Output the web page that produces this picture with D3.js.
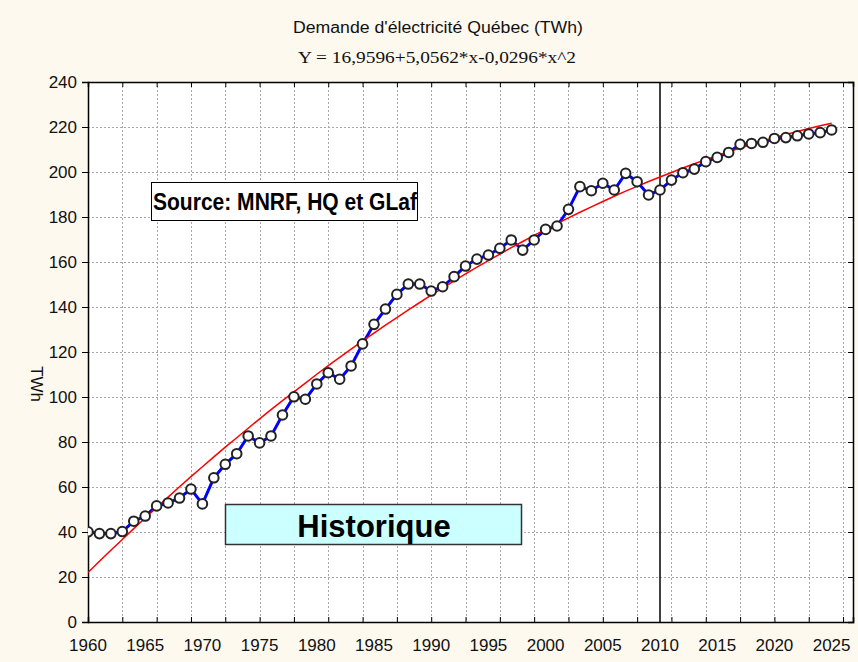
<!DOCTYPE html>
<html>
<head>
<meta charset="utf-8">
<script src="https://cdn.jsdelivr.net/npm/d3@7"></script>
<style>
  html, body { margin: 0; padding: 0; background: #fdf9ef; }
  svg { display: block; font-family: Arial, "Liberation Sans", sans-serif; }
</style>
</head>
<body>
<svg width="858" height="662"></svg>
<script>
// demande historique + prévision (TWh)
const years = d3.range(1960, 2026)
const demand = [
  40.1, 39.3, 39.3, 40.2, 44.8, 47.1, 51.6, 52.9, 55.1, 59.1,
  52.5, 64.1, 70.1, 74.8, 82.7, 79.6, 82.7, 92.0, 100.1, 99.0,
  105.8, 110.8, 107.9, 113.8, 123.6, 132.3, 139.1, 145.6, 150.2, 150.2,
  147.1, 149.0, 153.5, 158.2, 161.3, 163.1, 166.1, 169.8, 165.3, 169.8,
  174.5, 176.0, 183.4, 193.5, 191.7, 195.0, 192.0, 199.4, 195.7, 189.8,
  192.0, 196.4, 199.7, 201.3, 204.6, 206.5, 208.7, 212.3, 212.7, 213.2,
  214.9, 215.3, 216.1, 216.9, 217.5, 218.7
]
// courbe ajustée (une valeur par année)
const fitted = [
  22.0, 27.0, 31.9, 36.7, 41.5, 46.2, 50.9, 55.5, 60.1, 64.6,
  69.0, 73.4, 77.7, 81.9, 86.1, 90.3, 94.4, 98.4, 102.3, 106.2,
  110.1, 113.9, 117.6, 121.3, 124.9, 128.4, 131.9, 135.3, 138.7, 142.0,
  145.3, 148.4, 151.6, 154.7, 157.7, 160.6, 163.5, 166.4, 169.1, 171.8,
  174.5, 177.1, 179.6, 182.1, 184.5, 186.9, 189.2, 191.5, 193.6, 195.8,
  197.8, 199.8, 201.8, 203.7, 205.5, 207.3, 209.0, 210.6, 212.2, 213.8,
  215.2, 216.7, 218.0, 219.3, 220.6, 221.7
]
const xTickLabels = d3.range(1960, 2026, 5)
const xGridYears = d3.range(1963, 2027, 3)
const yTicks = d3.range(0, 241, 20)
const splitYear = 2010

const svg = d3.select('svg')
const pLeft = 88, pRight = 853, pTop = 82, pBottom = 622

const x = d3.scaleLinear().domain([1960, 2026.87]).range([pLeft, pRight])
const y = d3.scaleLinear().domain([0, 240]).range([pBottom, pTop])

svg.append('rect').attr('width', 858).attr('height', 662).attr('fill', '#fdf9ef')
svg.append('rect')
  .attr('x', pLeft).attr('y', pTop)
  .attr('width', pRight - pLeft).attr('height', pBottom - pTop)
  .attr('fill', '#fff')

svg.append('defs').append('clipPath').attr('id', 'plot')
  .append('rect')
  .attr('x', pLeft).attr('y', pTop)
  .attr('width', pRight - pLeft).attr('height', pBottom - pTop)

// grille
const grid = svg.append('g')
  .attr('stroke', '#a8a8a8').attr('stroke-width', 1).attr('stroke-dasharray', '2,2')
grid.selectAll('.gx').data(xGridYears).enter().append('line')
  .attr('x1', d => Math.round(x(d)) + 0.5).attr('x2', d => Math.round(x(d)) + 0.5)
  .attr('y1', pTop).attr('y2', pBottom)
grid.selectAll('.gy').data(yTicks.filter(d => d > 0 && d < 240)).enter().append('line')
  .attr('y1', d => Math.round(y(d)) + 0.5).attr('y2', d => Math.round(y(d)) + 0.5)
  .attr('x1', pLeft).attr('x2', pRight)

// axes
const xAxisBottom = d3.axisBottom(x).tickValues(xGridYears).tickSize(-5).tickFormat('')
svg.append('g').attr('transform', `translate(0,${pBottom})`).call(xAxisBottom)
const xAxisTop = d3.axisTop(x).tickValues(xGridYears).tickSize(-5).tickFormat('')
svg.append('g').attr('transform', `translate(0,${pTop})`).call(xAxisTop)
const yAxisLeft = d3.axisLeft(y).tickValues(yTicks).tickSize(6).tickPadding(5)
svg.append('g').attr('class', 'yl').attr('transform', `translate(${pLeft},0)`).call(yAxisLeft)
const yAxisRight = d3.axisRight(y).tickValues(yTicks).tickSize(-5).tickFormat('')
svg.append('g').attr('transform', `translate(${pRight},0)`).call(yAxisRight)

svg.selectAll('.domain').attr('stroke', '#000').attr('stroke-width', 1.5)
svg.selectAll('.tick line').attr('stroke', '#000')
svg.select('.yl').selectAll('text')
  .attr('font-size', 17).attr('fill', '#111').attr('font-family', 'Arial, "Liberation Sans", sans-serif')

svg.append('g').selectAll('text').data(xTickLabels).enter().append('text')
  .attr('x', d => x(d)).attr('y', 651)
  .attr('text-anchor', 'middle').attr('font-size', 17).attr('fill', '#111')
  .text(d => d)

// ligne 2010
svg.append('line')
  .attr('x1', x(splitYear)).attr('x2', x(splitYear))
  .attr('y1', pTop).attr('y2', pBottom)
  .attr('stroke', '#000').attr('stroke-width', 1.5)

// encadrés
svg.append('rect')
  .attr('x', 151.5).attr('y', 182.5).attr('width', 266).attr('height', 38)
  .attr('fill', '#fff').attr('stroke', '#000').attr('stroke-width', 1)
svg.append('text')
  .attr('x', 285).attr('y', 210).attr('text-anchor', 'middle')
  .attr('font-size', 23).attr('font-weight', 'bold')
  .attr('textLength', 264).attr('lengthAdjust', 'spacingAndGlyphs')
  .text('Source: MNRF, HQ et GLaf')

svg.append('rect')
  .attr('x', 225.5).attr('y', 504.5).attr('width', 296).attr('height', 40)
  .attr('fill', '#ccffff').attr('stroke', '#333').attr('stroke-width', 1.5)
svg.append('text')
  .attr('x', 374).attr('y', 537).attr('text-anchor', 'middle')
  .attr('font-size', 31).attr('font-weight', 'bold')
  .text('Historique')

// séries
const plot = svg.append('g').attr('clip-path', 'url(#plot)')
const line = d3.line().x((d, i) => x(years[i])).y(d => y(d))

plot.append('path').datum(demand)
  .attr('d', line).attr('fill', 'none')
  .attr('stroke', '#0000ff').attr('stroke-width', 3)

plot.append('path').datum(fitted)
  .attr('d', line).attr('fill', 'none')
  .attr('stroke', '#ff0000').attr('stroke-width', 1.5)

plot.selectAll('circle').data(demand).enter().append('circle')
  .attr('cx', (d, i) => x(years[i])).attr('cy', d => y(d))
  .attr('r', 4.8)
  .attr('fill', '#fff').attr('stroke', '#222').attr('stroke-width', 2)

// titres
svg.append('text')
  .attr('x', 438).attr('y', 33).attr('text-anchor', 'middle')
  .attr('font-size', 16).attr('fill', '#111')
  .attr('textLength', 290).attr('lengthAdjust', 'spacingAndGlyphs')
  .text("Demande d'électricité Québec (TWh)")
svg.append('text')
  .attr('x', 437).attr('y', 63).attr('text-anchor', 'middle')
  .attr('font-size', 17).attr('fill', '#111')
  .attr('font-family', '"Liberation Serif", "Times New Roman", serif')
  .attr('textLength', 278).attr('lengthAdjust', 'spacingAndGlyphs')
  .text('Y = 16,9596+5,0562*x-0,0296*x^2')

svg.append('text')
  .attr('transform', 'translate(31,384) rotate(90)')
  .attr('text-anchor', 'middle')
  .attr('font-size', 17).attr('fill', '#111')
  .text('TWh')
</script>
</body>
</html>
